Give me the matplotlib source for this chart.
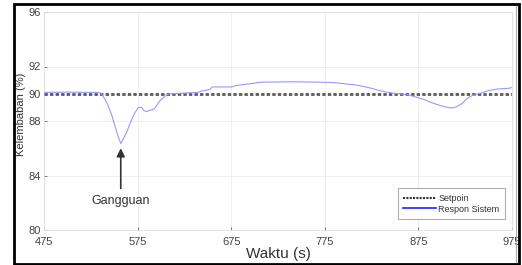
import matplotlib
matplotlib.use("Agg")
import matplotlib.pyplot as plt
from matplotlib.patches import Rectangle
from matplotlib.lines import Line2D

plt.rcParams['font.family'] = ['Liberation Sans', 'DejaVu Sans']

time_s = [475, 500, 530, 536, 540, 543, 547, 551, 554, 557, 560, 564, 568, 572, 576, 579,
          582, 585, 589, 593, 596, 599, 603, 607, 611, 625, 640, 643, 652, 655, 676, 680,
          691, 707, 740, 770, 785, 790, 794, 800, 808, 815, 822, 830, 841, 848, 855, 865,
          873, 882, 891, 900, 906, 911, 916, 922, 927, 932, 937, 944, 951, 960, 971, 975]
respon = [90.1, 90.12, 90.1, 90.05, 89.6, 89.2, 88.5, 87.6, 86.9, 86.35, 86.7, 87.3, 88.0,
          88.6, 89.0, 89.0, 88.75, 88.7, 88.8, 88.9, 89.2, 89.5, 89.75, 89.95, 90.0, 90.05,
          90.1, 90.2, 90.3, 90.5, 90.5, 90.6, 90.7, 90.85, 90.88, 90.85, 90.82, 90.78, 90.75,
          90.7, 90.65, 90.55, 90.45, 90.3, 90.12, 90.05, 90.0, 89.9, 89.75, 89.55, 89.3,
          89.1, 89.0, 88.95, 89.05, 89.3, 89.65, 89.85, 89.95, 90.1, 90.25, 90.35, 90.4, 90.45]
setpoin_t = [475, 975]
setpoin = [90, 90]

x_ticks = [475, 575, 675, 775, 875, 975]
y_ticks = [80, 84, 88, 90, 92, 96]

W, H = 522, 265
fig = plt.figure(figsize=(W / 100, H / 100), dpi=100)
ax = fig.add_axes([44 / W, (H - 230) / H, (512 - 44) / W, (230 - 12) / H])

ax.plot(setpoin_t, setpoin, color='#5a5a5a', linestyle=(0, (1.2, 0.8)), linewidth=2.0,
        zorder=3, label='Setpoin')
ax.plot(time_s, respon, color='#9898ff', linewidth=0.8, zorder=4,
        label='Respon Sistem')

ax.set_xlim(475, 975)
ax.set_ylim(80, 96)
ax.set_xticks(x_ticks)
ax.set_yticks(y_ticks)
ax.tick_params(axis='both', labelsize=8, colors='#444444', length=2, width=0.5,
               direction='in', pad=2)
ax.tick_params(axis='x', pad=5)
ax.grid(True, color='#eeeeee', linewidth=0.6)
for sp in ax.spines.values():
    sp.set_color('#dddddd')
    sp.set_linewidth(0.6)

ax.set_xlabel('Waktu (s)', fontsize=11, color='#333333', labelpad=0)
ax.set_ylabel('Kelembaban (%)', fontsize=8, color='#333333')
ax.yaxis.set_label_coords(-0.038, 0.53)

ax.annotate('Gangguan', xy=(557, 86.0), xytext=(557, 82.1), fontsize=9, color='#333333',
            ha='center', va='center',
            arrowprops=dict(arrowstyle='-|>', color='#333333', lw=1.2, mutation_scale=12,
                            shrinkA=3, shrinkB=0))

handles = [Line2D([], [], color='#333333', linestyle=(0, (1, 0.6)), linewidth=1.5),
           Line2D([], [], color='#2020ff', linewidth=1.2)]
leg = ax.legend(handles, ['Setpoin', 'Respon Sistem'], loc='lower right', fontsize=6.5,
                frameon=True, fancybox=False, edgecolor='#999999', handlelength=3.6,
                handletextpad=0.3, borderpad=0.6, labelspacing=0.2, borderaxespad=0,
                bbox_to_anchor=(505 / W, (H - 219) / H), bbox_transform=fig.transFigure)
leg.get_frame().set_linewidth(0.8)
for t in leg.get_texts():
    t.set_color('#333333')

fig.add_artist(Line2D([516 / W, 516 / W], [(H - 262) / H, (H - 6) / H],
                      transform=fig.transFigure, color='#aaaaaa', linewidth=0.8))
fig.add_artist(Rectangle((13.5 / W, 1 / H), (519 - 13.5) / W, (260) / H,
                         transform=fig.transFigure, fill=False, edgecolor='black',
                         linewidth=2.0))

fig.savefig('out.png', dpi=100)
